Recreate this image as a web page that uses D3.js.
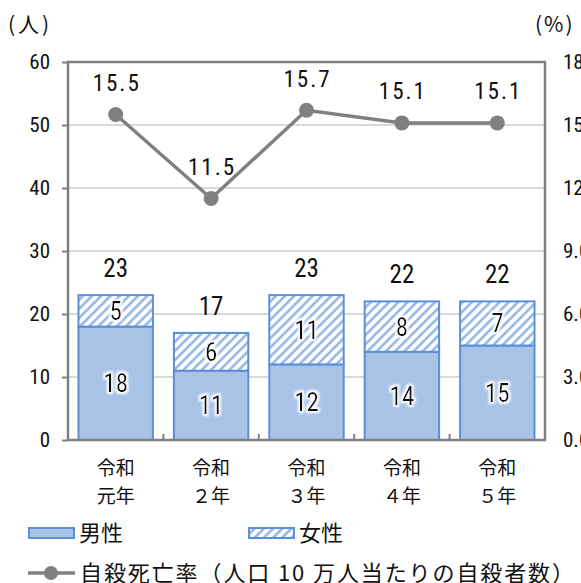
<!DOCTYPE html>
<html>
<head>
<meta charset="utf-8">
<script src="https://cdn.jsdelivr.net/npm/d3@7"></script>
<style>
  html, body { margin: 0; padding: 0; background: #fff; }
  svg { display: block; }
  .num { font-family: "Liberation Sans Narrow", "Roboto Condensed", "Noto Sans", sans-serif; }
  .jp { font-family: "Noto Sans CJK JP", "Noto Sans", sans-serif; }
</style>
</head>
<body>
<svg id="chart" width="581" height="583"></svg>
<script>
// Annual data
const categories = ["令和\n元年", "令和\n２年", "令和\n３年", "令和\n４年", "令和\n５年"];
const male = [18, 11, 12, 14, 15];
const female = [5, 6, 11, 8, 7];
const rate = [15.5, 11.5, 15.7, 15.1, 15.1];
const leftTicks = [0, 10, 20, 30, 40, 50, 60];
const rightTicks = [0, 3, 6, 9, 12, 15, 18];
const units = ["(人)", "(%)"];
const legendLabels = ["男性", "女性", "自殺死亡率（人口 10 万人当たりの自殺者数）"];

const svg = d3.select("#chart");
const m = { left: 68, right: 545, top: 62, bottom: 440 };

const x = d3.scaleBand().domain(d3.range(categories.length))
  .range([m.left, m.right]).paddingInner(0.22).paddingOuter(0.11);
const xc = i => x(i) + x.bandwidth() / 2;
const yL = d3.scaleLinear().domain([0, 60]).range([m.bottom, m.top]);
const yR = d3.scaleLinear().domain([0, 18]).range([m.bottom, m.top]);

const blueStroke = "#5b8fd9";
const maleFill = "#a9c3e7";
const axisGray = "#7f7f7f";

// hatch pattern for female segment
const defs = svg.append("defs");
const pat = defs.append("pattern").attr("id", "hatch")
  .attr("patternUnits", "userSpaceOnUse").attr("width", 6.5).attr("height", 6.5)
  .attr("patternTransform", "rotate(45)");
pat.append("rect").attr("width", 6.5).attr("height", 6.5).attr("fill", "#fff");
pat.append("rect").attr("x", 0).attr("width", 2.6).attr("height", 6.5).attr("fill", "#96b8e8");

const halo = defs.append("filter").attr("id", "halo").attr("x", "-30%").attr("y", "-30%").attr("width", "160%").attr("height", "160%");
halo.append("feMorphology").attr("in", "SourceAlpha").attr("operator", "dilate").attr("radius", 2).attr("result", "d");
halo.append("feGaussianBlur").attr("in", "d").attr("stdDeviation", 1.2).attr("result", "b");
halo.append("feFlood").attr("flood-color", "#fff");
halo.append("feComposite").attr("in2", "b").attr("operator", "in").attr("result", "w");
const mg = halo.append("feMerge");
mg.append("feMergeNode").attr("in", "w");
mg.append("feMergeNode").attr("in", "SourceGraphic");

// gridlines
svg.append("g").selectAll("line").data(leftTicks.filter(t => t > 0 && t < 60)).join("line")
  .attr("x1", m.left).attr("x2", m.right)
  .attr("y1", d => yL(d)).attr("y2", d => yL(d))
  .attr("stroke", "#d9d9d9").attr("stroke-width", 2);

// left axis
const gL = svg.append("g").attr("transform", `translate(${m.left},0)`)
  .call(d3.axisLeft(yL).tickValues(leftTicks).tickSize(6).tickPadding(12));
gL.select(".domain").remove();
gL.selectAll("line").attr("stroke", axisGray).attr("stroke-width", 2);
gL.selectAll("text").attr("class", "num").attr("font-size", 21).attr("fill", "#111");

// right axis (labels run past the page edge)
const gR = svg.append("g").attr("transform", `translate(${m.right},0)`)
  .call(d3.axisRight(yR).tickValues(rightTicks).tickFormat(d3.format(".1f")).tickSize(0).tickPadding(18));
gR.select(".domain").remove();
gR.selectAll("text").attr("class", "num").attr("font-size", 21).attr("fill", "#111").attr("text-anchor", "start");

// bars
const bars = svg.append("g");
bars.selectAll("rect.m").data(male).join("rect").attr("class", "m")
  .attr("x", (d, i) => x(i)).attr("width", x.bandwidth())
  .attr("y", d => yL(d)).attr("height", d => yL(0) - yL(d))
  .attr("fill", maleFill).attr("stroke", blueStroke).attr("stroke-width", 2);
bars.selectAll("rect.f").data(female).join("rect").attr("class", "f")
  .attr("x", (d, i) => x(i)).attr("width", x.bandwidth())
  .attr("y", (d, i) => yL(male[i] + d)).attr("height", (d, i) => yL(male[i]) - yL(male[i] + d))
  .attr("fill", "url(#hatch)").attr("stroke", blueStroke).attr("stroke-width", 2);

// frame
svg.append("rect").attr("x", m.left).attr("y", m.top)
  .attr("width", m.right - m.left).attr("height", m.bottom - m.top)
  .attr("fill", "none").attr("stroke", axisGray).attr("stroke-width", 2.5);

// category separator ticks on the bottom axis
svg.append("g").selectAll("line").data(d3.range(1, categories.length)).join("line")
  .attr("x1", i => x(i) - x.step() * x.paddingInner() / 2)
  .attr("x2", i => x(i) - x.step() * x.paddingInner() / 2)
  .attr("y1", m.bottom).attr("y2", m.bottom - 6)
  .attr("stroke", axisGray).attr("stroke-width", 2);

// segment labels
const segLabels = svg.append("g").attr("class", "num").attr("font-size", 25).attr("text-anchor", "middle")
  .attr("filter", "url(#halo)");
segLabels.selectAll("text.m").data(male).join("text").attr("class", "m")
  .attr("x", (d, i) => xc(i)).attr("y", d => (yL(0) + yL(d)) / 2).attr("dy", "0.36em")
  .attr("fill", "#111").text(d => d);
segLabels.selectAll("text.f").data(female).join("text").attr("class", "f")
  .attr("x", (d, i) => xc(i)).attr("y", (d, i) => (yL(male[i]) + yL(male[i] + d)) / 2).attr("dy", "0.36em")
  .attr("fill", "#111").text(d => d);

// totals
svg.append("g").selectAll("text").data(male.map((d, i) => d + female[i])).join("text")
  .attr("class", "num").attr("font-size", 25).attr("text-anchor", "middle").attr("fill", "#111")
  .attr("x", (d, i) => xc(i)).attr("y", d => yL(d) - 27).attr("dy", "0.36em")
  .text(d => d);

// rate line
const line = d3.line().x((d, i) => xc(i)).y(d => yR(d));
svg.append("path").datum(rate).attr("d", line)
  .attr("fill", "none").attr("stroke", "#808080").attr("stroke-width", 3.5);
svg.append("g").selectAll("circle").data(rate).join("circle")
  .attr("cx", (d, i) => xc(i)).attr("cy", d => yR(d)).attr("r", 7.5).attr("fill", "#808080");
svg.append("g").selectAll("text").data(rate).join("text")
  .attr("class", "num").attr("font-size", 23).attr("text-anchor", "middle").attr("fill", "#111")
  .attr("letter-spacing", 2)
  .attr("x", (d, i) => xc(i) + 1).attr("y", d => yR(d) - 32).attr("dy", "0.36em")
  .text(d => d.toFixed(1));

// category labels
const cat = svg.append("g").attr("class", "jp").attr("font-size", 19).attr("fill", "#111").attr("text-anchor", "middle");
categories.forEach((c, i) => {
  c.split("\n").forEach((s, k) => {
    cat.append("text").attr("x", xc(i)).attr("y", 468 + k * 28).attr("dy", "0.36em").text(s);
  });
});

// unit labels
svg.append("text").attr("class", "jp").attr("font-size", 21).attr("fill", "#111")
  .attr("x", 8).attr("y", 24).attr("dy", "0.36em").attr("letter-spacing", 3).text(units[0]);
svg.append("text").attr("class", "jp").attr("font-size", 21).attr("fill", "#111")
  .attr("x", 535).attr("y", 24).attr("dy", "0.36em").attr("letter-spacing", 2).text(units[1]);

// legend
const lg = svg.append("g").attr("class", "jp").attr("font-size", 22).attr("fill", "#111");
lg.append("rect").attr("x", 29).attr("y", 528).attr("width", 45).attr("height", 10)
  .attr("fill", maleFill).attr("stroke", blueStroke).attr("stroke-width", 2);
lg.append("text").attr("x", 79).attr("y", 533).attr("dy", "0.36em").text(legendLabels[0]);
lg.append("rect").attr("x", 249).attr("y", 528).attr("width", 45).attr("height", 10)
  .attr("fill", "url(#hatch)").attr("stroke", blueStroke).attr("stroke-width", 2);
lg.append("text").attr("x", 299).attr("y", 533).attr("dy", "0.36em").text(legendLabels[1]);
lg.append("line").attr("x1", 28).attr("x2", 75).attr("y1", 573).attr("y2", 573)
  .attr("stroke", "#808080").attr("stroke-width", 3.5);
lg.append("circle").attr("cx", 51).attr("cy", 573).attr("r", 7).attr("fill", "#808080");
lg.append("text").attr("x", 80).attr("y", 573).attr("dy", "0.36em")
  .attr("textLength", 494).attr("lengthAdjust", "spacing").text(legendLabels[2]);
</script>
</body>
</html>
